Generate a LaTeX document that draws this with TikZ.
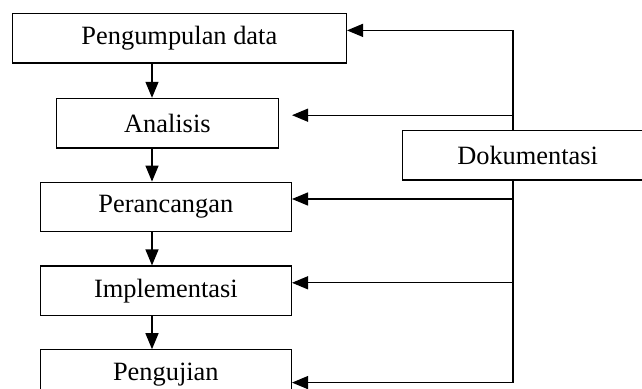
\documentclass[tikz,border=0pt]{standalone}
\usepackage{fontspec}
\setmainfont{Liberation Serif}
\usepackage{tikz}
\usetikzlibrary{positioning,arrows.meta}

\begin{document}
\begin{tikzpicture}[line width=0.65pt,
                    >={Triangle[length=8pt,width=6.5pt]},
                    main node/.style={rectangle,draw,fill=white,inner sep=0pt,
                      minimum height=24.75pt,font=\fontsize{13.2}{15}\selectfont}]

  \useasboundingbox (0,0) rectangle (321pt,-194.5pt);

  \node[main node,minimum width=167pt,anchor=north west] (pengumpulan) at (5.85pt,-6.5pt) {Pengumpulan data};
  \node[main node,minimum width=111pt,below=17pt of pengumpulan.south west,anchor=north west,xshift=22pt] (analisis) {Analisis};
  \node[main node,minimum width=125.5pt,below=16.5pt of analisis.south west,anchor=north west,xshift=-8pt] (perancangan) {Perancangan};
  \node[main node,minimum width=125.5pt,below=16.5pt of perancangan] (implementasi) {Implementasi};
  \node[main node,minimum width=125.5pt,below=16.5pt of implementasi] (pengujian) {Pengujian};
  \node[main node,minimum width=125pt,right=61.5pt of analisis.north east,anchor=north west,yshift=-16pt] (dokumentasi) {Dokumentasi};

  % alur utama
  \coordinate (col) at (76pt,0);
  \foreach \a/\b in {pengumpulan/analisis,analisis/perancangan,perancangan/implementasi,implementasi/pengujian}
    \draw[->] (\a.south -| col) -- (\b.north -| col);

  % garis dokumentasi
  \coordinate (rail) at (256.5pt,0);
  \path ([yshift=4pt]pengumpulan.east) coordinate (in1)
        ([yshift=4pt]analisis.east -| perancangan.east) coordinate (in2)
        ([yshift=4pt]perancangan.east) coordinate (in3)
        ([yshift=4pt]implementasi.east) coordinate (in4)
        ([yshift=-4pt]pengujian.east) coordinate (in5);
  \draw (in1 -| rail) -- (dokumentasi.north -| rail);
  \draw (dokumentasi.south -| rail) -- (in5 -| rail);
  \foreach \i in {1,...,5}
    \draw[->] (in\i -| rail) -- (in\i);
\end{tikzpicture}
\end{document}
